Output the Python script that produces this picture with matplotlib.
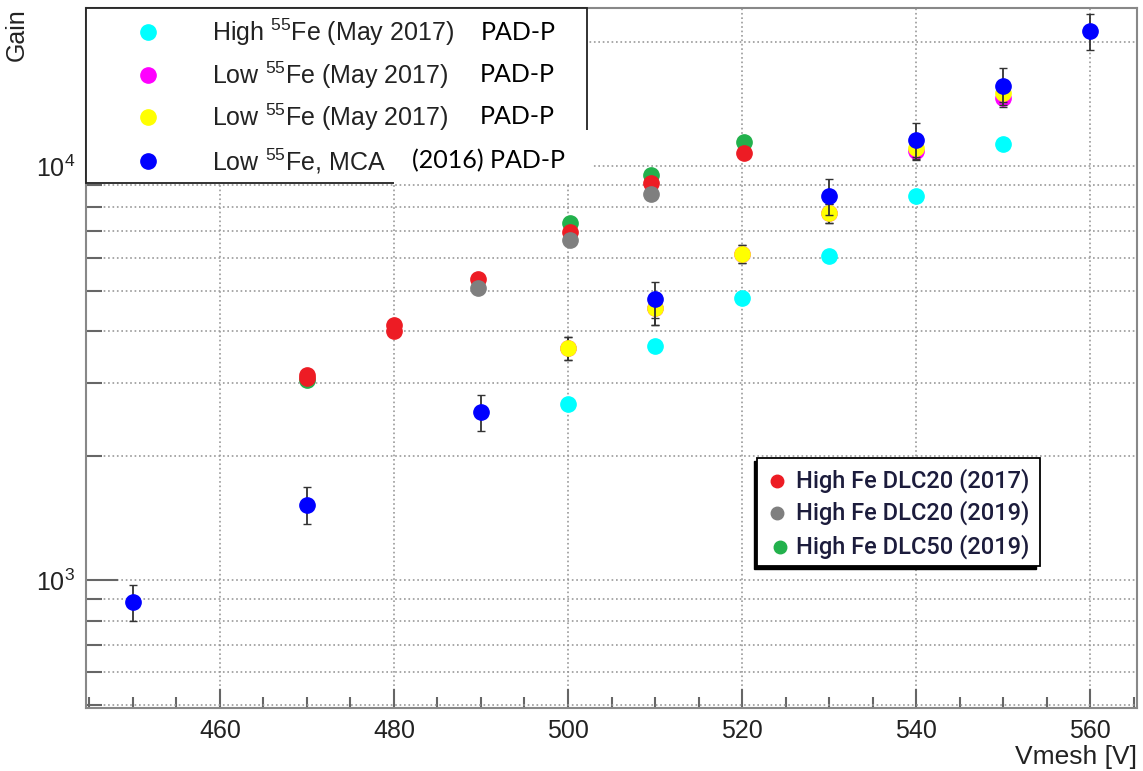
import matplotlib
matplotlib.use("Agg")
import matplotlib.pyplot as plt
from matplotlib.patches import Rectangle
from matplotlib.lines import Line2D
from matplotlib.ticker import LogLocator, MultipleLocator, NullFormatter
import numpy as np

plt.rcParams['font.family'] = ['Liberation Sans', 'DejaVu Sans']
plt.rcParams['mathtext.default'] = 'regular'

# --- data ---
v_blue = [450, 470, 490, 510, 530, 540, 550, 560]
g_blue = [887, 1524, 2552, 4783, 8464, 11557, 15660, 21190]
e_blue = [90, 155, 250, 480, 850, 1150, 1600, 2100]

v_cyan = [500, 510, 520, 530, 540, 550]
g_cyan = [2668, 3688, 4810, 6086, 8495, 11325]

v_mag = [500, 510, 520, 530, 540, 550]
g_mag = [3642, 4550, 6143, 7716, 10900, 14630]
e_mag = [240, 400, 310, 400, 520, 700]

v_yel = [500, 510, 520, 530, 540, 550]
g_yel = [3642, 4550, 6143, 7716, 11077, 15040]
e_yel = [240, 400, 310, 400, 550, 750]

v_red = [470, 470, 480, 480, 489.6, 500.2, 509.5, 520.2]
g_red = [3080, 3140, 4010, 4130, 5346, 6928, 9118, 10775]

v_gray = [489.6, 500.2, 509.5]
g_gray = [5086, 6651, 8590]

v_green = [470, 500.2, 509.5, 520.2]
g_green = [3050, 7300, 9550, 11430]

labels_root = [r"High $^{55}$Fe (May 2017)", r"Low $^{55}$Fe (May 2017)",
               r"Low $^{55}$Fe (May 2017)", r"Low $^{55}$Fe, MCA"]
colors_root = ['#00ffff', '#ff00ff', '#ffff00', '#0000ff']
labels_dlc = ["High Fe DLC20 (2017)", "High Fe DLC20 (2019)", "High Fe DLC50 (2019)"]
colors_dlc = ['#ed1c24', '#7f7f7f', '#22b14c']

W, H = 1143, 771
fig = plt.figure(figsize=(W / 100, H / 100), dpi=100)
ax = fig.add_axes([86 / W, 1 - 708 / H, (1137 - 86) / W, (708 - 8) / H])


def px(x, y):
    return x / W, 1 - y / H


ax.set_yscale('log')
ax.set_xlim(444.6, 565.4)
ax.set_ylim(492, 24130)

ms = 11
# DLC points
ax.plot(v_green, g_green, 'o', color=colors_dlc[2], ms=ms, zorder=3)
ax.plot(v_red, g_red, 'o', color=colors_dlc[0], ms=ms, zorder=3)
ax.plot(v_gray, g_gray, 'o', color=colors_dlc[1], ms=ms, zorder=3)

# PAD-P points
ax.plot(v_cyan, g_cyan, 'o', color=colors_root[0], ms=ms, zorder=4)
ax.errorbar(v_mag, g_mag, yerr=e_mag, fmt='o', color=colors_root[1], ms=ms,
            ecolor='#333333', elinewidth=1.3, capsize=3, zorder=4)
ax.errorbar(v_yel, g_yel, yerr=e_yel, fmt='o', color=colors_root[2], ms=ms,
            ecolor='#333333', elinewidth=1.3, capsize=3, zorder=5)
ax.errorbar(v_blue, g_blue, yerr=e_blue, fmt='o', color=colors_root[3], ms=ms,
            ecolor='#333333', elinewidth=1.3, capsize=3, zorder=6)

# ticks / grid
ax.xaxis.set_major_locator(MultipleLocator(20))
ax.xaxis.set_minor_locator(MultipleLocator(5))
ax.yaxis.set_major_locator(LogLocator(base=10))
ax.yaxis.set_minor_locator(LogLocator(base=10, subs=np.arange(2, 10)))
ax.yaxis.set_minor_formatter(NullFormatter())
ax.tick_params(which='both', direction='in', color='#666666', width=1.5,
               labelsize=18, labelcolor='#222222')
ax.tick_params(axis='y', which='major', length=23, pad=8)
ax.tick_params(axis='y', which='minor', length=11.5)
ax.tick_params(axis='x', which='major', length=14, pad=8)
ax.tick_params(axis='x', which='minor', length=8)
ax.grid(True, axis='x', which='major', ls=':', color='#999999', lw=1.2)
ax.grid(True, axis='y', which='both', ls=':', color='#999999', lw=1.2)
ax.set_axisbelow(True)
for s in ax.spines.values():
    s.set_color('#888888')
    s.set_linewidth(1.5)

fig.text(*px(17, 8), "Gain", rotation=90, ha='center', va='top', fontsize=18,
         color='#222222')
fig.text(*px(1137, 757), "Vmesh [V]", ha='right', va='center', fontsize=19,
         color='#222222')

# upper-left legend box
fig.patches.append(Rectangle(px(86, 183), (587 - 86) / W, (183 - 8) / H,
                             transform=fig.transFigure, facecolor='white',
                             edgecolor='#222222', lw=1.3, zorder=10))
rows_y = [32, 75, 117, 161]
for lab, col, yy in zip(labels_root, colors_root, rows_y):
    fig.lines.append(Line2D([148 / W], [1 - yy / H], marker='o', color=col, ms=ms,
                            transform=fig.transFigure, zorder=11))
    fig.text(*px(212, yy), lab, ha='left', va='center', fontsize=18,
             color='#222222', zorder=11)
# white patch pasted over the last row
fig.patches.append(Rectangle(px(394, 184), (593 - 394) / W, (184 - 130) / H,
                             transform=fig.transFigure, facecolor='white',
                             edgecolor='none', zorder=12))
pad_x = [481, 480, 480, 412]
pad_t = ["PAD-P", "PAD-P", "PAD-P", "(2016) PAD-P"]
for xx, yy, t in zip(pad_x, rows_y, pad_t):
    fig.text(*px(xx, yy), t, ha='left', va='center', fontsize=18,
             family=['Lato', 'DejaVu Sans'], color='black', zorder=13)

# lower-right legend box (with a dark shadow at left / bottom)
fig.patches.append(Rectangle(px(754, 569), (1036 - 754) / W, (569 - 461) / H,
                             transform=fig.transFigure, facecolor='black',
                             edgecolor='black', lw=1, zorder=10))
fig.patches.append(Rectangle(px(757, 566), (1040 - 757) / W, (566 - 458) / H,
                             transform=fig.transFigure, facecolor='white',
                             edgecolor='black', lw=1.3, zorder=10))
dlc_y = [481, 513, 547]
dlc_mx = [777, 777, 780]
for lab, col, yy, mx in zip(labels_dlc, colors_dlc, dlc_y, dlc_mx):
    fig.lines.append(Line2D([mx / W], [1 - yy / H], marker='o', color=col, ms=9,
                            transform=fig.transFigure, zorder=11))
    fig.text(*px(796, yy), lab, ha='left', va='center', fontsize=17,
             family=['Roboto', 'DejaVu Sans'], weight='medium',
             color='#1c1c3c', zorder=11)

fig.savefig("out.png", dpi=100)
